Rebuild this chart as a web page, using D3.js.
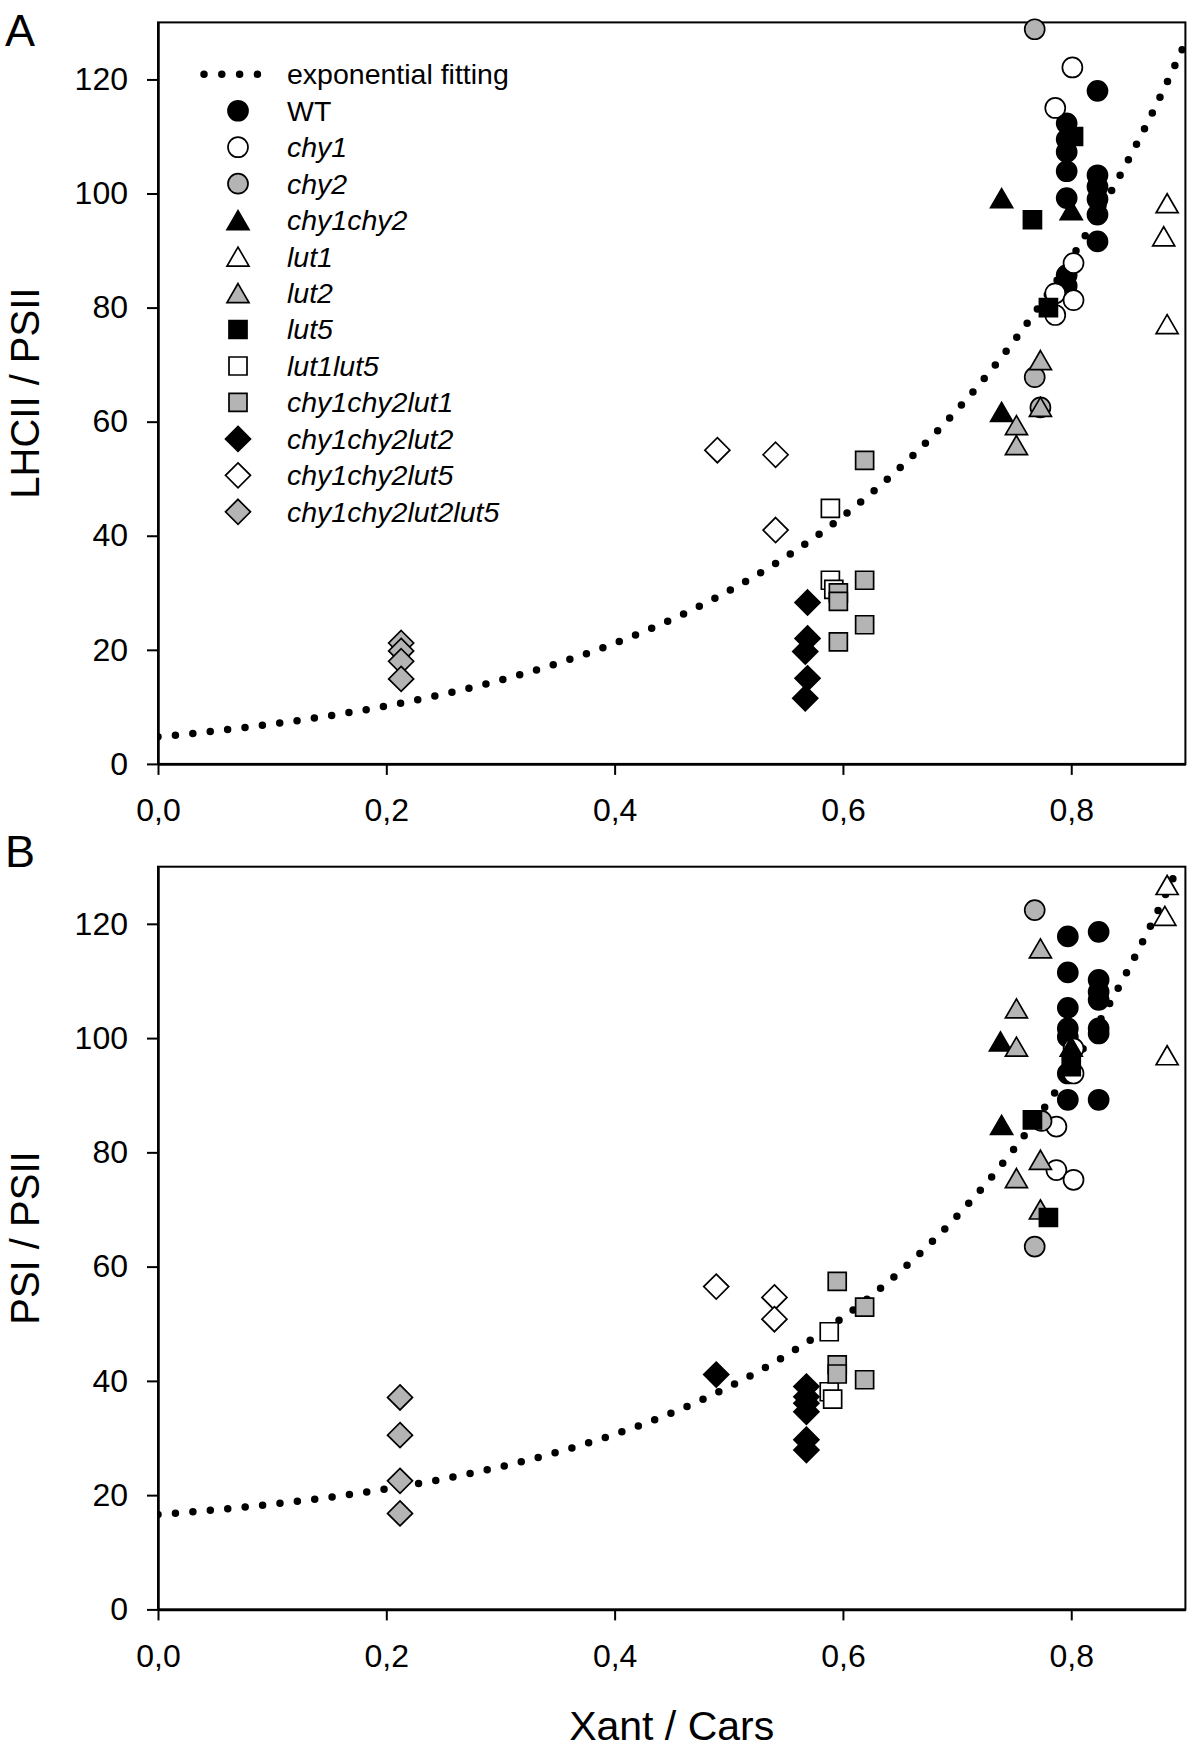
<!DOCTYPE html>
<html>
<head>
<meta charset="utf-8">
<script src="https://cdn.jsdelivr.net/npm/d3@7"></script>
<style>
  html, body { margin: 0; padding: 0; background: #fff; }
  svg { display: block; font-family: "Liberation Sans", Arial, sans-serif; }
</style>
</head>
<body>
<svg id="chart" width="1200" height="1753"></svg>
<script>
// ---------------- DATA ----------------
const seriesNames = ["WT","chy1","chy2","chy1chy2","lut1","lut2","lut5","lut1lut5",
  "chy1chy2lut1","chy1chy2lut2","chy1chy2lut5","chy1chy2lut2lut5"];
const seriesShapes = ["circle","circle","circle","triangle","triangle","triangle",
  "square","square","square","diamond","diamond","diamond"];
const seriesFills = ["black","white","gray","black","white","gray",
  "black","white","gray","black","white","gray"];
const seriesItalic = [false,true,true,true,true,true,true,true,true,true,true,true];

const xTicks = [0, 0.2, 0.4, 0.6, 0.8];
const yTicks = [0, 20, 40, 60, 80, 100, 120];
const xDomain = [0, 0.9];
const yDomain = [0, 130];

const panelLetters = ["A", "B"];
const yTitles = ["LHCII / PSII", "PSI / PSII"];
const xTitle = "Xant / Cars";
const fitLabel = "exponential fitting";

// exponential fitting y = y0 + a*exp(b*x)
const fitA = { y0: -0.5, a: 5.25, b: 3.54 };
const fitB = { y0: 12.67, a: 3.93, b: 3.80 };

// Panel A : LHCII / PSII  ([Xant/Cars, value])
const WT_A = [[0.796,112.3],[0.796,109.5],[0.796,107.3],[0.796,103.9],[0.796,99.2],[0.796,85.7],[0.796,83.8],
              [0.823,118.0],[0.823,103.2],[0.823,101.2],[0.823,99.0],[0.823,96.3],[0.823,91.6]];
const chy1_A = [[0.801,122.1],[0.786,115.0],[0.802,87.8],[0.786,82.5],[0.802,81.3],[0.786,78.7]];
const chy2_A = [[0.768,128.8],[0.768,67.8],[0.773,62.5]];
const chy1chy2_A = [[0.739,99.2],[0.800,97.1],[0.739,61.7]];
const lut1_A = [[0.884,98.3],[0.881,92.5],[0.884,77.1]];
const lut2_A = [[0.773,70.8],[0.773,62.6],[0.752,59.4],[0.752,55.9]];
const lut5_A = [[0.802,110.0],[0.766,95.4],[0.780,80.0]];
const lut1lut5_A = [[0.589,44.8],[0.589,32.2],[0.592,30.6]];
const chy1chy2lut1_A = [[0.619,53.2],[0.619,32.2],[0.619,24.4],[0.596,30.0],[0.596,28.5],[0.596,21.4]];
const chy1chy2lut2_A = [[0.569,28.3],[0.569,22.0],[0.567,19.7],[0.569,15.0],[0.567,11.5]];
const chy1chy2lut5_A = [[0.490,55.0],[0.541,54.2],[0.541,41.0]];
const chy1chy2lut2lut5_A = [[0.213,21.2],[0.213,19.8],[0.213,18.0],[0.213,14.9]];

// Panel B : PSI / PSII
const WT_B = [[0.797,117.8],[0.797,111.5],[0.797,105.3],[0.797,101.7],[0.797,100.2],[0.797,93.8],[0.797,89.2],
              [0.824,118.6],[0.824,110.2],[0.824,108.1],[0.824,106.7],[0.824,101.7],[0.824,100.8],[0.824,89.2]];
const chy1_B = [[0.802,98.2],[0.802,93.8],[0.787,84.5],[0.787,76.9],[0.802,75.2]];
const chy2_B = [[0.768,122.4],[0.774,85.5],[0.768,63.5]];
const chy1chy2_B = [[0.738,99.4],[0.800,98.5],[0.739,84.8]];
const lut1_B = [[0.884,126.8],[0.882,121.4],[0.884,97.0]];
const lut2_B = [[0.773,115.7],[0.752,105.2],[0.752,98.5],[0.773,78.7],[0.752,75.5],[0.773,70.0]];
const lut5_B = [[0.800,95.0],[0.766,85.7],[0.780,68.6]];
const lut1lut5_B = [[0.588,48.6],[0.588,38.1],[0.591,36.8]];
const chy1chy2lut1_B = [[0.595,57.4],[0.619,52.9],[0.595,42.8],[0.595,41.2],[0.619,40.2]];
const chy1chy2lut2_B = [[0.489,41.1],[0.568,39.0],[0.568,37.2],[0.568,36.1],[0.568,34.6],[0.568,29.7],[0.568,27.9]];
const chy1chy2lut5_B = [[0.489,56.5],[0.540,54.6],[0.540,50.8]];
const chy1chy2lut2lut5_B = [[0.212,37.1],[0.212,30.5],[0.212,22.5],[0.212,16.8]];

const panelA = [WT_A, chy1_A, chy2_A, chy1chy2_A, lut1_A, lut2_A, lut5_A, lut1lut5_A,
  chy1chy2lut1_A, chy1chy2lut2_A, chy1chy2lut5_A, chy1chy2lut2lut5_A];
const panelB = [WT_B, chy1_B, chy2_B, chy1chy2_B, lut1_B, lut2_B, lut5_B, lut1lut5_B,
  chy1chy2lut1_B, chy1chy2lut2_B, chy1chy2lut5_B, chy1chy2lut2lut5_B];

// ---------------- DRAWING ----------------
const GRAY = "#b4b4b4";
const fillColor = f => f === "black" ? "#000" : (f === "white" ? "#fff" : GRAY);
function symPath(shape) {
  if (shape === "circle") { const r = 10; return `M${r},0A${r},${r} 0 1,1 ${-r},0A${r},${r} 0 1,1 ${r},0Z`; }
  if (shape === "square") return "M-9,-9H9V9H-9Z";
  if (shape === "triangle") return "M0,-9.5L11,9.5L-11,9.5Z";
  return "M0,-12.5L12.5,0L0,12.5L-12.5,0Z";
}

const svg = d3.select("#chart");
const left = 158, right = 1185.4;
const x = d3.scaleLinear().domain(xDomain).range([left, right]);

const panels = [
  { top: 22.4, bottom: 763.9, data: panelA, fit: fitA, letterY: 46.4 },
  { top: 866.7, bottom: 1609.4, data: panelB, fit: fitB, letterY: 867 }
];

panels.forEach((p, pi) => {
  const y = d3.scaleLinear().domain(yDomain).range([p.bottom, p.top]);
  const g = svg.append("g");

  const clipId = "clip" + pi;
  svg.append("clipPath").attr("id", clipId).append("rect")
    .attr("x", left).attr("y", p.top).attr("width", right - left).attr("height", p.bottom - p.top);

  // frame
  g.append("rect").attr("x", left).attr("y", p.top)
    .attr("width", right - left).attr("height", p.bottom - p.top)
    .attr("fill", "none").attr("stroke", "#000").attr("stroke-width", 2);

  // axes
  const yAxis = d3.axisLeft(y).tickValues(yTicks).tickSize(11).tickSizeOuter(0).tickPadding(19)
    .tickFormat(d3.format("d"));
  const xAxis = d3.axisBottom(x).tickValues(xTicks).tickSize(11).tickSizeOuter(0).tickPadding(23.5)
    .tickFormat(d => d.toFixed(1).replace(".", ","));
  const ga = g.append("g").attr("transform", `translate(${left},0)`).call(yAxis);
  const gb = g.append("g").attr("transform", `translate(0,${p.bottom})`).call(xAxis);
  [ga, gb].forEach(a => {
    a.selectAll("path.domain").attr("stroke", "#000").attr("stroke-width", 2.5);
    a.selectAll(".tick line").attr("stroke", "#000").attr("stroke-width", 2);
    a.selectAll(".tick text").attr("fill", "#000")
      .style("font-family", '"Liberation Sans", Arial, sans-serif').style("font-size", "32px");
  });

  // y title
  g.append("text")
    .attr("transform", `translate(39,${(p.top + p.bottom) / 2}) rotate(-90)`)
    .attr("text-anchor", "middle").style("font-size", "40px").attr("fill", "#000")
    .text(yTitles[pi]);

  // panel letter
  g.append("text").attr("x", 5).attr("y", p.letterY).style("font-size", "45px")
    .attr("fill", "#000").text(panelLetters[pi]);

  // fit curve
  const fx = d3.range(0, 0.9 + 1e-9, 0.002);
  const line = d3.line().x(d => x(d)).y(d => y(p.fit.y0 + p.fit.a * Math.exp(p.fit.b * d)));
  g.append("path").attr("d", line(fx)).attr("clip-path", `url(#${clipId})`)
    .attr("fill", "none").attr("stroke", "#000").attr("stroke-width", 7.5)
    .attr("stroke-linecap", "round").attr("stroke-dasharray", "0 17.5");

  // series
  p.data.forEach((pts, si) => {
    g.append("g").selectAll("path").data(pts).join("path")
      .attr("transform", d => `translate(${x(d[0])},${y(d[1])})`)
      .attr("d", symPath(seriesShapes[si]))
      .attr("fill", fillColor(seriesFills[si]))
      .attr("stroke", "#000").attr("stroke-width", 1.7);
  });
});

// x title
svg.append("text").attr("x", (left + right) / 2).attr("y", 1740)
  .attr("text-anchor", "middle").style("font-size", "41px").attr("fill", "#000").text(xTitle);

// legend (panel A)
const lg = svg.append("g");
const legY0 = 74.3, legStep = 36.46, symX = 238, txtX = 287;
lg.append("line").attr("x1", 204).attr("x2", 257.5).attr("y1", legY0).attr("y2", legY0)
  .attr("stroke", "#000").attr("stroke-width", 7.5).attr("stroke-linecap", "round")
  .attr("stroke-dasharray", "0 17.8");
lg.append("text").attr("x", txtX).attr("y", legY0).attr("dy", "0.35em")
  .style("font-size", "28.5px").attr("fill", "#000").text(fitLabel);
seriesNames.forEach((n, i) => {
  const yy = legY0 + (i + 1) * legStep;
  lg.append("path").attr("transform", `translate(${symX},${yy})`)
    .attr("d", symPath(seriesShapes[i])).attr("fill", fillColor(seriesFills[i]))
    .attr("stroke", "#000").attr("stroke-width", 1.7);
  lg.append("text").attr("x", txtX).attr("y", yy).attr("dy", "0.35em")
    .style("font-size", "28.5px").style("font-style", seriesItalic[i] ? "italic" : "normal")
    .attr("fill", "#000").text(n);
});
</script>
</body>
</html>
